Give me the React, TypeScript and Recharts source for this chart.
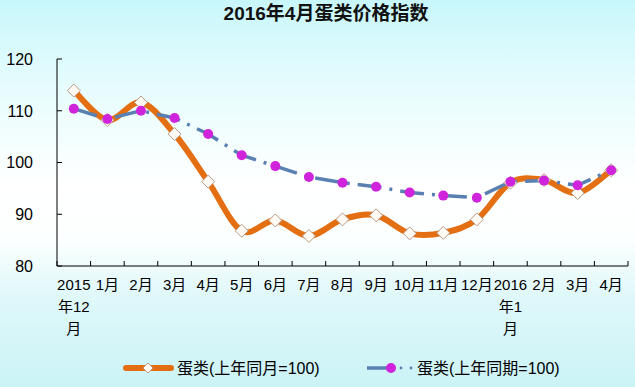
import React from "react";
import { LineChart, Line, XAxis, YAxis, Legend } from "recharts";

const categories = [
  "2015\n年12\n月", "1月", "2月", "3月", "4月", "5月", "6月", "7月", "8月",
  "9月", "10月", "11月", "12月", "2016\n年1\n月", "2月", "3月", "4月",
];
const yoyValues = [113.9, 108.2, 111.6, 105.5, 96.3, 86.8, 88.8, 85.8, 89.0, 89.8, 86.3, 86.4, 89.0, 96.1, 96.6, 94.1, 98.5];
const cumValues = [110.4, 108.4, 110.0, 108.6, 105.5, 101.4, 99.3, 97.2, 96.1, 95.3, 94.2, 93.6, 93.2, 96.3, 96.5, 95.6, 98.5];
const yTicks = [80, 90, 100, 110, 120];
const title = "2016年4月蛋类价格指数";
const seriesNames = ["蛋类(上年同月=100)", "蛋类(上年同期=100)"];

const data = categories.map((c, i) => ({ cat: c, yoy: yoyValues[i], cum: cumValues[i] }));

const FONT = '"Liberation Sans", "Noto Sans CJK SC", sans-serif';
const ORANGE = "#E36F12";
const BLUE = "#5A80B2";
const MAGENTA = "#D024DC";
const HALF_STEP = 16.8;

function excelSmooth(context: any) {
  let pts: number[][] = [];
  return {
    areaStart() {},
    areaEnd() {},
    lineStart() {
      pts = [];
    },
    point(x: number, y: number) {
      pts.push([+x, +y]);
    },
    lineEnd() {
      const n = pts.length;
      if (!n) return;
      context.moveTo(pts[0][0], pts[0][1]);
      for (let i = 0; i < n - 1; i++) {
        const p0 = pts[i - 1] || pts[i];
        const p1 = pts[i];
        const p2 = pts[i + 1];
        const p3 = pts[i + 2] || pts[i + 1];
        context.bezierCurveTo(
          p1[0] + (p2[0] - p0[0]) / 6,
          p1[1] + (p2[1] - p0[1]) / 6,
          p2[0] - (p3[0] - p1[0]) / 6,
          p2[1] - (p3[1] - p1[1]) / 6,
          p2[0],
          p2[1]
        );
      }
    },
  };
}

const Diamond = (props: any) => {
  const { cx, cy, index } = props;
  if (cx == null || cy == null) return <g key={`d${index}`} />;
  const r = 6.5;
  return (
    <path
      key={`d${index}`}
      d={`M${cx},${cy - r}L${cx + r},${cy}L${cx},${cy + r}L${cx - r},${cy}Z`}
      fill="#FFFBF4"
      stroke="#B89A86"
      strokeWidth={1}
    />
  );
};

const Dot = (props: any) => {
  const { cx, cy, index } = props;
  if (cx == null || cy == null) return <g key={`c${index}`} />;
  return <circle key={`c${index}`} cx={cx} cy={cy} r={5} fill={MAGENTA} stroke="none" />;
};

const XTick = (props: any) => {
  const { x, y, payload, index, visibleTicksCount } = props;
  const off = HALF_STEP;
  const lines = String(payload.value).split("\n");
  return (
    <g>
      <line x1={x - off} y1={y} x2={x - off} y2={y - 5} stroke="#000" strokeWidth={1} />
      {index === visibleTicksCount - 1 && (
        <line x1={x + off} y1={y} x2={x + off} y2={y - 5} stroke="#000" strokeWidth={1} />
      )}
      {lines.map((l, i) => (
        <text key={i} x={x} y={y + 24 + i * 22} textAnchor="middle" fontSize={15} fontFamily={FONT} fill="#000">
          {l}
        </text>
      ))}
    </g>
  );
};

const YTick = (props: any) => {
  const { x, y, payload } = props;
  return (
    <g>
      <line x1={x} y1={y} x2={x + 5} y2={y} stroke="#000" strokeWidth={1} />
      <text x={x - 24} y={y} dy="0.36em" textAnchor="end" fontSize={16} fontFamily={FONT} fill="#000">
        {payload.value}
      </text>
    </g>
  );
};

const LegendContent = () => (
  <svg width={635} height={30} style={{ display: "block" }}>
    <line x1={126} y1={15} x2={171} y2={15} stroke={ORANGE} strokeWidth={6} strokeLinecap="round" />
    <path d="M148,10L153,15L148,20L143,15Z" fill="#FFFBF4" stroke="#B89A86" strokeWidth={1} />
    <text x={177} y={15} dy="0.36em" fontSize={16} fontFamily={FONT} fill="#000">
      {seriesNames[0]}
    </text>
    <line x1={367} y1={15} x2={389} y2={15} stroke={BLUE} strokeWidth={3.5} />
    <circle cx={391} cy={15} r={5} fill={MAGENTA} />
    <circle cx={401} cy={15} r={1.4} fill={BLUE} />
    <circle cx={411} cy={15} r={1.4} fill={BLUE} />
    <text x={417} y={15} dy="0.36em" fontSize={16} fontFamily={FONT} fill="#000">
      {seriesNames[1]}
    </text>
  </svg>
);

export default function App() {
  return (
    <div
      style={{
        position: "absolute",
        left: 0,
        top: 0,
        width: 635,
        height: 387,
        background:
          "linear-gradient(to bottom, #c8f7fb 0%, #e6fcfd 22%, #ffffff 48%, #fcffff 62%, #e0f8fa 76%, #cbf3f6 100%)",
        overflow: "hidden",
      }}
    >
      <div
        style={{
          position: "absolute",
          left: 0,
          top: 3,
          width: 652,
          textAlign: "center",
          fontFamily: FONT,
          fontWeight: "bold",
          fontSize: 19,
          lineHeight: "22px",
          color: "#111",
        }}
      >
        {title}
      </div>
      <LineChart width={635} height={387} data={data} margin={{ top: 59, right: 7, bottom: 4, left: 0 }}>
        <XAxis
          dataKey="cat"
          interval={0}
          padding={{ left: HALF_STEP, right: HALF_STEP }}
          tickLine={false}
          tickSize={0}
          tickMargin={0}
          height={87}
          axisLine={{ stroke: "#000", strokeWidth: 1 }}
          tick={<XTick />}
        />
        <YAxis
          domain={[80, 120]}
          ticks={yTicks}
          width={57}
          tickLine={false}
          tickSize={0}
          tickMargin={0}
          axisLine={{ stroke: "#000", strokeWidth: 1 }}
          tick={<YTick />}
          allowDataOverflow
        />
        <Legend verticalAlign="bottom" height={30} wrapperStyle={{ left: 0, width: 635 }} content={<LegendContent />} />
        <Line
          dataKey="yoy"
          type={excelSmooth as any}
          stroke={ORANGE}
          strokeWidth={6}
          strokeLinejoin="round"
          dot={Diamond}
          activeDot={false}
          isAnimationActive={false}
        />
        <Line
          dataKey="cum"
          type="linear"
          stroke={BLUE}
          strokeWidth={3.5}
          strokeDasharray="24 8 3 8"
          dot={Dot}
          activeDot={false}
          isAnimationActive={false}
        />
      </LineChart>
    </div>
  );
}
